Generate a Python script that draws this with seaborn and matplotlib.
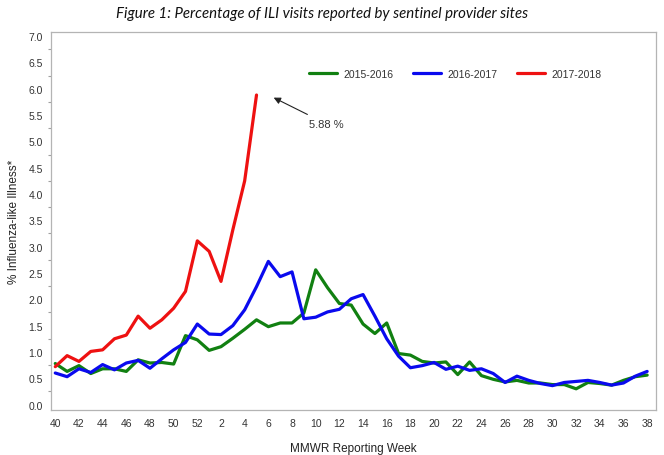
"""
ILI surveillance chart
Percentage of ILI visits reported by sentinel provider sites, three seasons
"""

import numpy as np
import pandas as pd
import matplotlib
matplotlib.use('Agg')
import matplotlib.pyplot as plt
import seaborn as sns

# MMWR weeks shown on the x axis (season runs week 40 -> week 38)
WEEKS = list(range(40, 53)) + list(range(1, 39))

SEASONS = ['2015-2016', '2016-2017', '2017-2018']
COLORS = ['#118011', '#0a0aee', '#ee1111']

ili_2015_2016 = [0.78, 0.63, 0.74, 0.59, 0.68, 0.68, 0.63, 0.85, 0.79, 0.80,
                 0.77, 1.31, 1.23, 1.03, 1.10, 1.26, 1.43, 1.61, 1.48, 1.55,
                 1.55, 1.74, 2.56, 2.22, 1.92, 1.89, 1.53, 1.35, 1.55, 0.97,
                 0.94, 0.82, 0.79, 0.81, 0.57, 0.81, 0.55, 0.48, 0.43, 0.46,
                 0.41, 0.41, 0.38, 0.38, 0.30, 0.42, 0.40, 0.37, 0.46, 0.53,
                 0.56]

ili_2016_2017 = [0.60, 0.53, 0.68, 0.61, 0.76, 0.66, 0.79, 0.84, 0.69, 0.87,
                 1.04, 1.18, 1.53, 1.34, 1.33, 1.50, 1.80, 2.24, 2.72, 2.43,
                 2.52, 1.63, 1.66, 1.76, 1.81, 2.01, 2.09, 1.68, 1.25, 0.92,
                 0.70, 0.74, 0.80, 0.67, 0.73, 0.65, 0.68, 0.59, 0.42, 0.54,
                 0.46, 0.40, 0.36, 0.42, 0.44, 0.46, 0.42, 0.37, 0.41, 0.54,
                 0.63]

ili_2017_2018 = [0.72, 0.93, 0.82, 1.01, 1.04, 1.25, 1.32, 1.68, 1.45, 1.61,
                 1.83, 2.15, 3.11, 2.91, 2.34, 3.32, 4.25, 5.88]

PEAK_LABEL = '5.88 %'


def build_frame():
    """Long-format table: one row per season/week"""
    frames = []
    for season, values in zip(SEASONS, [ili_2015_2016, ili_2016_2017, ili_2017_2018]):
        frames.append(pd.DataFrame({
            'pos': np.arange(len(values)),
            'week': WEEKS[:len(values)],
            'pct': values,
            'season': season,
        }))
    return pd.concat(frames, ignore_index=True)


def main():
    df = build_frame()

    sns.set_style('white')
    plt.rcParams['font.family'] = ['Liberation Sans', 'DejaVu Sans']

    fig = plt.figure(figsize=(6.64, 4.56), dpi=100)
    ax = fig.add_axes([0.077, 0.099, 0.911, 0.829])

    sns.lineplot(data=df, x='pos', y='pct', hue='season', hue_order=SEASONS,
                 palette=COLORS, linewidth=2.3, ax=ax)

    # axes ranges / ticks
    ax.set_xlim(-0.35, len(WEEKS) - 1 + 0.75)
    ax.set_ylim(-0.1, 7.08)
    tick_pos = [i for i, w in enumerate(WEEKS) if w % 2 == 0]
    ax.set_xticks(tick_pos)
    ax.set_xticklabels([str(WEEKS[i]) for i in tick_pos])
    ax.set_yticks(np.arange(0, 7.01, 0.5))
    ax.set_yticklabels([f'{v:.1f}' for v in np.arange(0, 7.01, 0.5)])
    ax.set_yticks(np.arange(0.25, 7.0, 0.5), minor=True)

    ax.tick_params(axis='both', which='major', direction='out', length=4,
                   width=0.8, color='#8a8a8a', labelsize=7.5, labelcolor='#333333', pad=2)
    ax.tick_params(axis='y', which='minor', direction='out', length=2,
                   width=0.8, color='#a0a0a0', left=True)
    for side in ['left', 'right', 'top', 'bottom']:
        ax.spines[side].set_color('#b4b4b4')
        ax.spines[side].set_linewidth(0.9)

    ax.set_xlabel('MMWR Reporting Week', fontsize=8.5, color='#222222', labelpad=10)
    ax.set_ylabel('% Influenza-like Illness*', fontsize=8.5, color='#222222', labelpad=6)

    # legend across the top
    ax.legend(loc='center', bbox_to_anchor=(0.668, 0.889), ncol=3, frameon=False,
              fontsize=7.5, handlelength=2.7, handletextpad=0.6, columnspacing=1.9,
              labelcolor='#333333')

    # peak annotation for the current season
    peak_i = len(ili_2017_2018) - 1
    ax.annotate(PEAK_LABEL, xy=(peak_i + 1.45, ili_2017_2018[-1] - 0.05),
                xytext=(peak_i + 4.45, 5.33), fontsize=8, color='#333333',
                ha='left', va='center',
                arrowprops=dict(arrowstyle='-|>', color='#222222', lw=0.8,
                                mutation_scale=10, shrinkA=2, shrinkB=0))

    fig.suptitle('Figure 1: Percentage of ILI visits reported by sentinel provider sites',
                 x=0.485, y=0.985, fontsize=10.8, style='italic', family='Lato',
                 color='#111111')

    fig.savefig('out.png', dpi=100)
    plt.close(fig)


if __name__ == '__main__':
    main()
